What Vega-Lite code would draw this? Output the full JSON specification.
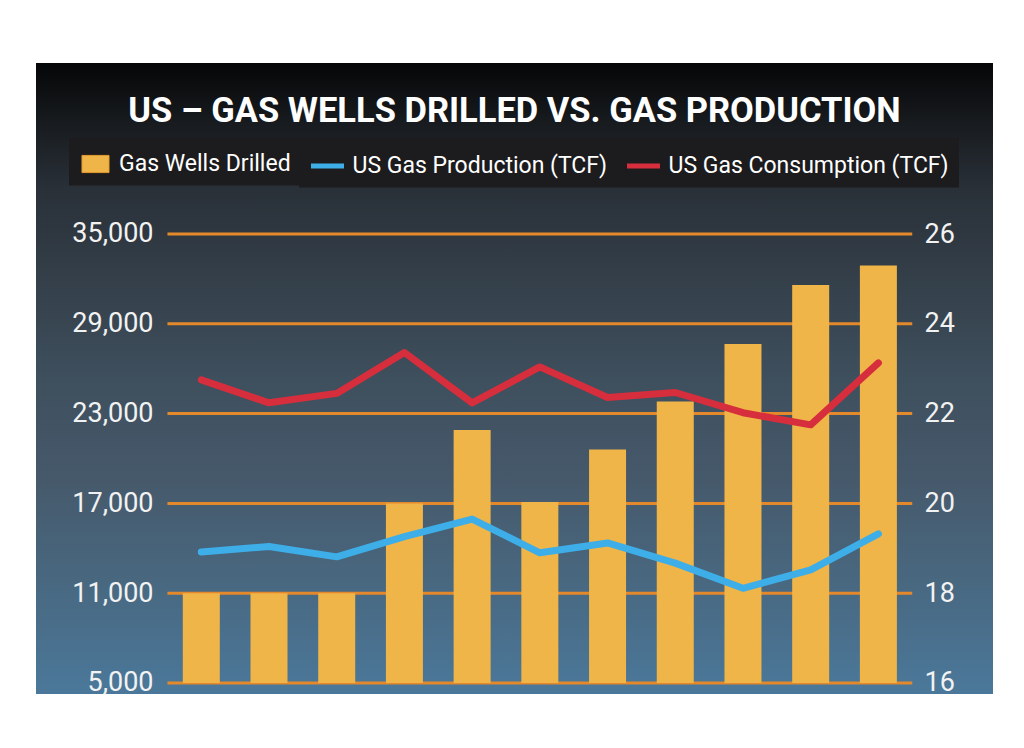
{
  "$schema": "https://vega.github.io/schema/vega-lite/v6.json",
  "width": 957,
  "height": 631,
  "autosize": {"type": "none"},
  "padding": {"left": 36, "top": 63, "right": 31, "bottom": 54},
  "background": "#ffffff",
  "view": {"stroke": null},
  "title": {
    "text": "US – GAS WELLS DRILLED VS. GAS PRODUCTION",
    "font": "Roboto, sans-serif",
    "fontSize": 34.5,
    "fontWeight": "bold",
    "color": "#ffffff",
    "anchor": "middle",
    "frame": "group",
    "baseline": "alphabetic",
    "offset": -93.5
  },
  "datasets": {
    "wells": [
      {"idx": 1, "wells": 11000},
      {"idx": 2, "wells": 11000},
      {"idx": 3, "wells": 11000},
      {"idx": 4, "wells": 17000},
      {"idx": 5, "wells": 21900},
      {"idx": 6, "wells": 17100},
      {"idx": 7, "wells": 20600},
      {"idx": 8, "wells": 23800},
      {"idx": 9, "wells": 27650},
      {"idx": 10, "wells": 31600},
      {"idx": 11, "wells": 32900}
    ],
    "gas": [
      {"idx": 1, "series": "US Gas Production (TCF)", "tcf": 18.92},
      {"idx": 2, "series": "US Gas Production (TCF)", "tcf": 19.04},
      {"idx": 3, "series": "US Gas Production (TCF)", "tcf": 18.81},
      {"idx": 4, "series": "US Gas Production (TCF)", "tcf": 19.26},
      {"idx": 5, "series": "US Gas Production (TCF)", "tcf": 19.65},
      {"idx": 6, "series": "US Gas Production (TCF)", "tcf": 18.90},
      {"idx": 7, "series": "US Gas Production (TCF)", "tcf": 19.12},
      {"idx": 8, "series": "US Gas Production (TCF)", "tcf": 18.67},
      {"idx": 9, "series": "US Gas Production (TCF)", "tcf": 18.11},
      {"idx": 10, "series": "US Gas Production (TCF)", "tcf": 18.52},
      {"idx": 11, "series": "US Gas Production (TCF)", "tcf": 19.32},
      {"idx": 1, "series": "US Gas Consumption (TCF)", "tcf": 22.75},
      {"idx": 2, "series": "US Gas Consumption (TCF)", "tcf": 22.24},
      {"idx": 3, "series": "US Gas Consumption (TCF)", "tcf": 22.45},
      {"idx": 4, "series": "US Gas Consumption (TCF)", "tcf": 23.36},
      {"idx": 5, "series": "US Gas Consumption (TCF)", "tcf": 22.24},
      {"idx": 6, "series": "US Gas Consumption (TCF)", "tcf": 23.04},
      {"idx": 7, "series": "US Gas Consumption (TCF)", "tcf": 22.36},
      {"idx": 8, "series": "US Gas Consumption (TCF)", "tcf": 22.47},
      {"idx": 9, "series": "US Gas Consumption (TCF)", "tcf": 22.02},
      {"idx": 10, "series": "US Gas Consumption (TCF)", "tcf": 21.75},
      {"idx": 11, "series": "US Gas Consumption (TCF)", "tcf": 23.13}
    ],
    "grid": [
      {"v": 5000}, {"v": 11000}, {"v": 17000}, {"v": 23000}, {"v": 29000}, {"v": 35000}
    ]
  },
  "layer": [
    {
      "layer": [
        {
          "data": {"values": [{}]},
          "mark": {
            "type": "rect",
            "color": {
              "gradient": "linear", "x1": 0, "y1": 0, "x2": 0, "y2": 1,
              "stops": [
                {"offset": 0, "color": "#050607"},
                {"offset": 0.08, "color": "#15181b"},
                {"offset": 0.2, "color": "#293038"},
                {"offset": 0.33, "color": "#333e48"},
                {"offset": 0.5, "color": "#3e4f5d"},
                {"offset": 0.66, "color": "#46596b"},
                {"offset": 0.8, "color": "#48667d"},
                {"offset": 1, "color": "#4b789a"}
              ]
            }
          },
          "encoding": {
            "x": {"datum": -1.4413, "type": "quantitative", "scale": {"domain": [-1.4413, 12.6927], "nice": false, "zero": false, "padding": 0}, "axis": null},
            "x2": {"datum": 12.6927},
            "y": {
              "datum": 46425, "type": "quantitative",
              "scale": {"domain": [4265, 46425], "nice": false, "zero": false, "padding": 0},
              "axis": {"orient": "left", "offset": -117, "zindex": 2, "values": [5000, 11000, 17000, 23000, 29000, 35000], "format": ",d", "labelPadding": 0, "tickSize": 0, "ticks": false, "domain": false, "grid": false, "title": null}
            },
            "y2": {"datum": 4265}
          }
        },
        {
          "data": {"name": "grid"},
          "mark": {"type": "rule", "color": "#e3892c", "strokeWidth": 3},
          "encoding": {
            "x": {"datum": 0.5, "type": "quantitative"},
            "x2": {"datum": 11.5},
            "y": {"field": "v", "type": "quantitative"}
          }
        },
        {
          "data": {"name": "wells"},
          "mark": {"type": "bar", "size": 37},
          "encoding": {
            "x": {"field": "idx", "type": "quantitative"},
            "y": {"field": "wells", "type": "quantitative"},
            "y2": {"datum": 5000},
            "fill": {
              "datum": "Gas Wells Drilled", "type": "nominal",
              "scale": {"domain": ["Gas Wells Drilled"], "range": ["#f0b548"]},
              "legend": {
                "title": null,
                "orient": "none",
                "legendX": 33,
                "legendY": 74.5,
                "fillColor": "#1c1c1e",
                "padding": 9.5,
                "labelFont": "Roboto, sans-serif",
                "labelFontSize": 23,
                "labelColor": "#ffffff",
                "labelOffset": 6.5,
                "labelLimit": 400,
                "symbolType": "M-0.82,-0.52H0.82V0.52H-0.82Z",
                "symbolSize": 1089,
                "symbolStrokeColor": "#e39a2c",
                "symbolStrokeWidth": 1,
                "zindex": 3
              }
            }
          }
        }
      ]
    },
    {
      "data": {"name": "gas"},
      "mark": {"type": "line", "strokeWidth": 7, "strokeCap": "round", "strokeJoin": "round"},
      "encoding": {
        "x": {"field": "idx", "type": "quantitative"},
        "y": {
          "field": "tcf", "type": "quantitative",
          "scale": {"domain": [15.755, 29.809], "nice": false, "zero": false},
          "axis": {"orient": "right", "offset": -69, "zindex": 2, "values": [16, 18, 20, 22, 24, 26], "labelPadding": 0, "tickSize": 0, "ticks": false, "domain": false, "grid": false, "title": null}
        },
        "stroke": {
          "field": "series", "type": "nominal",
          "scale": {"domain": ["US Gas Production (TCF)", "US Gas Consumption (TCF)"], "range": ["#3eaee8", "#d62e3c"]},
          "legend": {
            "title": null,
            "orient": "none",
            "legendX": 263,
            "legendY": 74.5,
            "direction": "horizontal",
            "fillColor": "#1c1c1e",
            "padding": 9.5,
            "columnPadding": 9,
            "labelFont": "Roboto, sans-serif",
            "labelFontSize": 23,
            "labelColor": "#ffffff",
            "labelOffset": 6,
            "labelLimit": 400,
            "symbolType": "stroke",
            "symbolSize": 1089,
            "symbolStrokeWidth": 5,
            "zindex": 3
          }
        }
      }
    }
  ],
  "resolve": {"scale": {"y": "independent"}},
  "config": {
    "axis": {
      "labelColor": "#f2f2f2",
      "labelFont": "Roboto, sans-serif",
      "labelFontSize": 27
    }
  }
}
